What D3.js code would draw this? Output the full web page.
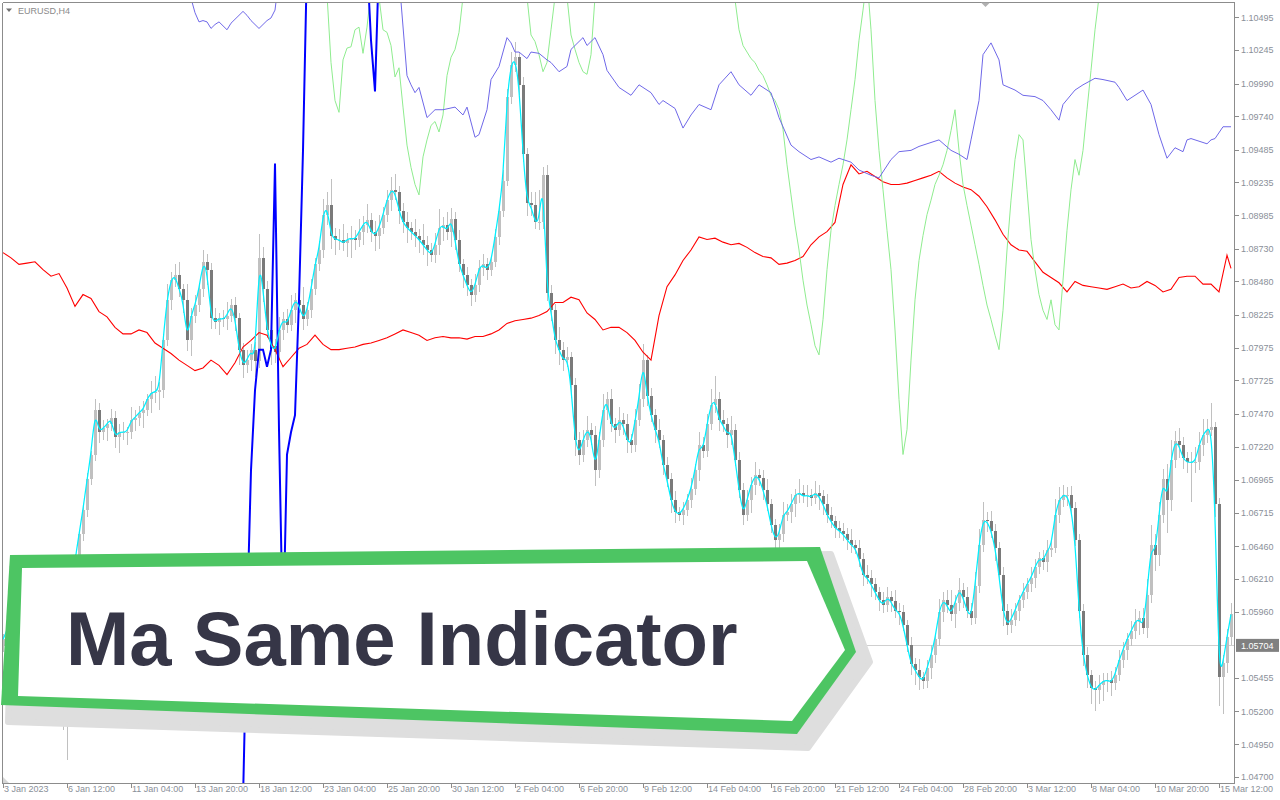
<!DOCTYPE html>
<html><head><meta charset="utf-8">
<script src="https://cdn.jsdelivr.net/npm/d3@7"></script>
<style>body{margin:0;background:#fff;}svg{display:block;}</style>
</head><body>
<svg id="c" width="1280" height="800"></svg>
<script>
// ---------------- DATA ----------------
const symbolLabel = "EURUSD,H4";
const bannerTitle = "Ma Same Indicator";
const firstOpen = 1.0570;
const closes = [
1.0575,1.0582,1.0590,1.0597,1.0594,1.0582,1.0567,1.0556,1.0544,1.0536,
1.0529,1.0525,1.0529,1.0521,1.0517,1.0510,1.0536,1.0605,1.0636,1.0655,
1.0674,1.0697,1.0716,1.0750,1.0733,1.0736,1.0739,1.0744,1.0729,1.0733,
1.0733,1.0733,1.0742,1.0744,1.0748,1.0750,1.0758,1.0763,1.0764,1.0765,
1.0803,1.0834,1.0849,1.0853,1.0842,1.0834,1.0803,1.0822,1.0830,1.0842,
1.0863,1.0857,1.0820,1.0817,1.0820,1.0819,1.0822,1.0830,1.0820,1.0796,
1.0784,1.0788,1.0796,1.0787,1.0866,1.0842,1.0811,1.0799,1.0794,1.0811,
1.0819,1.0815,1.0826,1.0834,1.0830,1.0819,1.0826,1.0842,1.0861,1.0872,
1.0899,1.0906,1.0883,1.0880,1.0880,1.0877,1.0880,1.0881,1.0880,1.0886,
1.0891,1.0895,1.0886,1.0883,1.0889,1.0899,1.0910,1.0918,1.0916,1.0902,
1.0893,1.0889,1.0886,1.0883,1.0880,1.0876,1.0872,1.0868,1.0876,1.0889,
1.0891,1.0886,1.0896,1.0880,1.0861,1.0853,1.0845,1.0838,1.0845,1.0858,
1.0861,1.0857,1.0863,1.0882,1.0902,1.0925,1.0989,1.1013,1.1019,1.0998,
1.0945,1.0908,1.0906,1.0893,1.0893,1.0929,1.0839,1.0826,1.0803,1.0796,
1.0788,1.0790,1.0769,1.0727,1.0716,1.0727,1.0735,1.0731,1.0704,1.0727,
1.0750,1.0758,1.0739,1.0735,1.0742,1.0739,1.0727,1.0723,1.0742,1.0758,
1.0788,1.0761,1.0746,1.0735,1.0727,1.0708,1.0697,1.0681,1.0672,1.0670,
1.0674,1.0681,1.0690,1.0704,1.0723,1.0719,1.0739,1.0754,1.0758,1.0742,
1.0739,1.0731,1.0735,1.0712,1.0689,1.0670,1.0681,1.0693,1.0700,1.0698,
1.0689,1.0678,1.0662,1.0651,1.0655,1.0670,1.0672,1.0678,1.0685,1.0687,
1.0684,1.0685,1.0683,1.0687,1.0684,1.0678,1.0670,1.0665,1.0660,1.0658,
1.0655,1.0651,1.0647,1.0645,1.0636,1.0624,1.0622,1.0617,1.0611,1.0605,
1.0601,1.0607,1.0604,1.0597,1.0596,1.0586,1.0571,1.0556,1.0552,1.0546,
1.0543,1.0553,1.0563,1.0575,1.0596,1.0605,1.0601,1.0594,1.0603,1.0613,
1.0607,1.0597,1.0591,1.0616,1.0647,1.0666,1.0665,1.0658,1.0645,1.0624,
1.0597,1.0586,1.0590,1.0597,1.0605,1.0611,1.0617,1.0622,1.0630,1.0637,
1.0634,1.0643,1.0645,1.0670,1.0681,1.0685,1.0685,1.0675,1.0651,1.0597,
1.0563,1.0548,1.0538,1.0536,1.0540,1.0543,1.0544,1.0542,1.0548,1.0559,
1.0567,1.0575,1.0581,1.0588,1.0591,1.0584,1.0609,1.0647,1.0639,1.0670,
1.0697,1.0681,1.0712,1.0726,1.0723,1.0713,1.0710,1.0710,1.0710,1.0723,
1.0731,1.0735,1.0737,1.0678,1.0546,1.0557,1.0577,1.0594];
// upper / lower wick length beyond the body, in pips
const wickUp = [
4,6,5,8,3,4,5,3,4,6, 5,4,8,3,4,5,6,5,4,3, 4,5,3,8,5,6,4,7,5,6, 8,4,10,6,5,7,4,9,12,6,
5,12,6,8,10,4,12,6,8,5, 9,6,5,8,4,6,10,5,6,4, 5,8,4,6,18,8,6,4,5,10, 6,8,12,5,9,14,6,8,5,7,
12,10,20,6,8,12,5,9,6,10, 7,12,5,8,10,6,8,10,12,5, 6,8,4,10,5,12,7,5,9,14, 6,10,8,5,7,4,6,5,9,6,
8,5,4,6,5,8,6,10,12,4, 6,5,8,10,25,6,8,6,5,10, 6,8,4,5,6,8,10,5,7,6, 12,6,8,5,10,6,8,5,9,12,
12,4,6,5,8,4,6,5,7,4, 6,5,8,5,10,6,8,12,18,6, 8,5,10,4,6,5,8,6,10,5, 6,8,4,5,8,10,6,8,5,10,
6,8,5,9,6,5,8,6,4,5, 6,5,8,4,6,5,8,6,5,4, 6,8,5,9,6,5,4,6,5,8, 4,6,8,5,10,6,8,12,6,9,
5,8,6,10,12,14,6,8,5,4, 6,5,8,6,4,7,5,8,6,5, 6,8,5,12,10,8,6,7,5,4, 5,6,4,5,8,6,5,7,6,8,
6,5,8,10,6,8,12,15,8,10, 8,12,15,8,10,6,5,8,12,10, 12,8,18,4,5,6,6,9];
const wickDn = [
5,4,6,3,5,4,6,8,5,4, 6,5,4,7,5,4,27,5,6,4, 5,6,4,5,8,6,10,5,8,12, 6,10,5,8,6,12,5,10,8,14,
6,4,8,5,6,10,8,12,6,5, 6,12,8,5,10,6,8,5,10,12, 10,6,8,12,5,10,6,15,8,5, 8,6,5,10,6,8,5,6,4,5,
6,8,10,12,8,6,10,14,8,6, 10,6,8,12,10,5,6,8,6,10, 8,12,6,9,10,8,12,5,6,8, 10,6,12,8,6,10,8,9,6,5,
6,8,5,4,6,5,4,6,5,8, 6,10,8,5,6,5,6,8,10,12, 8,5,10,12,8,6,5,8,12,6, 5,8,6,10,5,8,10,6,5,4,
6,8,5,10,6,8,6,10,8,5, 8,5,6,5,8,6,5,4,6,8, 6,10,8,5,6,8,5,10,8,6, 8,5,6,15,8,6,5,8,10,6,
5,8,6,5,10,8,6,5,8,6, 5,8,6,5,6,8,5,10,6,8, 6,5,8,6,10,5,6,8,12,10, 6,5,8,6,5,8,6,5,10,6,
8,6,5,4,6,5,8,6,10,5, 12,8,6,5,8,6,5,6,8,5, 6,8,5,4,6,5,8,6,5,6, 8,10,12,16,10,12,8,10,6,5,
6,8,5,6,10,5,8,6,12,8, 6,25,8,6,10,8,8,30,8,6, 8,6,5,10,22,28,8,6];
// red line, one value every 2 bars (last value = last bar)
const redLine = [
1.0870,1.0866,1.0861,1.0862,1.0863,1.0857,1.0852,1.0854,1.0843,1.0829,
1.0838,1.0835,1.0825,1.0821,1.0813,1.0808,1.0808,1.0811,1.0809,1.0801,
1.0797,1.0793,1.0788,1.0784,1.0780,1.0782,1.0788,1.0784,1.0777,1.0786,
1.0798,1.0803,1.0809,1.0807,1.0796,1.0783,1.0790,1.0797,1.0800,1.0807,
1.0800,1.0796,1.0796,1.0797,1.0798,1.0800,1.0801,1.0803,1.0805,1.0808,
1.0811,1.0809,1.0807,1.0803,1.0805,1.0806,1.0805,1.0805,1.0804,1.0806,
1.0806,1.0808,1.0811,1.0816,1.0818,1.0819,1.0820,1.0822,1.0825,1.0832,
1.0832,1.0836,1.0834,1.0824,1.0819,1.0811,1.0813,1.0813,1.0809,1.0803,
1.0794,1.0788,1.0822,1.0844,1.0853,1.0864,1.0872,1.0882,1.0880,1.0881,
1.0878,1.0876,1.0877,1.0874,1.0870,1.0867,1.0866,1.0861,1.0862,1.0864,
1.0867,1.0876,1.0882,1.0886,1.0893,1.0922,1.0937,1.0930,1.0932,1.0928,
1.0924,1.0922,1.0922,1.0923,1.0925,1.0927,1.0929,1.0932,1.0927,1.0923,
1.0920,1.0918,1.0913,1.0905,1.0895,1.0884,1.0876,1.0872,1.0871,1.0863,
1.0855,1.0851,1.0847,1.0840,1.0848,1.0845,1.0844,1.0843,1.0842,1.0844,
1.0846,1.0843,1.0844,1.0848,1.0845,1.0840,1.0842,1.0851,1.0852,1.0852,
1.0846,1.0846,1.0840,1.0868,1.0858];
const purpleBars = [47,48,49,50,51,52,53,54,56,57,60,61,62,64,66,67,68,69,84,99,
101,102,103,104,106,108,110,113,115,116,118,119,121,122,124,126,127,128,129,131,
132,134,136,137,139,141,142,145,146,148,150,151,154,157,159,162,164,165,168,170,
172,174,177,179,182,184,187,189,192,194,197,199,202,204,207,209,212,214,217,219,
222,224,227,229,232,234,237,239,241,242,244,245,247,249,250,253,255,258,260,262,
264,265,268,270,273,275,278,279,281,283,285,287,289,291,293,295,296,297,299,301,
302,303,305,307];
const purpleVals = [1.1064,1.1053,1.1046,1.1047,1.1046,1.1041,1.1044,1.1046,1.1040,1.1045,
1.1054,1.1051,1.1047,1.1041,1.1047,1.1049,1.1055,1.1080,1.1120,1.1080,
1.1005,1.0998,1.0992,1.0996,1.0973,1.0979,1.0979,1.0981,1.0975,1.0981,
1.0958,1.0960,1.0979,1.1002,1.1012,1.1034,1.1030,1.1023,1.1023,1.1018,
1.1023,1.1022,1.1017,1.1015,1.1008,1.1012,1.1025,1.1034,1.1028,1.1034,
1.1021,1.1009,1.0996,1.0990,1.0998,1.0992,1.0983,1.0986,1.0980,1.0965,
1.0975,1.0983,1.0979,1.0998,1.1008,1.0998,1.0990,1.0998,1.0992,1.0973,
1.0952,1.0947,1.0941,1.0943,1.0939,1.0942,1.0939,1.0933,1.0929,1.0927,
1.0941,1.0947,1.0948,1.0951,1.0954,1.0956,1.0948,1.0945,1.0941,1.0956,
1.0986,1.1021,1.1030,1.1017,1.0998,1.0994,1.0990,1.0989,1.0986,1.0979,
1.0971,1.0983,1.0994,1.0998,1.1003,1.1002,1.1000,1.0996,1.0986,1.0990,
1.0994,1.0983,1.0960,1.0942,1.0950,1.0947,1.0956,1.0957,1.0955,1.0953,
1.0956,1.0957,1.0966,1.0966];
const blueBars = [59,60,61,62,63,64,65,66,67,68,69,70,71,72,73,74,75,76,84,91,92,93,94,95];
const blueVals = [1.0390,1.0452,1.0590,1.0704,1.0765,1.0796,1.0796,1.0783,1.0796,1.0938,
1.0735,1.0575,1.0716,1.0733,1.0746,1.0834,1.0948,1.1093,1.1150,1.1093,1.1032,1.0993,1.1093,1.1150];
const greenBars = [80,81,82,83,84,85,86,87,88,89,90,91,92,93,94,95,96,97,98,99,
100,101,102,103,104,105,106,107,108,109,110,111,112,113,114,115,116,122,130,131,
132,133,134,135,136,137,138,139,140,141,142,143,144,145,146,147,148,149,165,182,
183,184,185,186,187,188,189,190,191,192,193,194,195,196,197,198,199,200,201,202,
203,204,205,206,207,208,209,210,211,212,213,214,215,216,217,218,219,220,221,222,
223,224,225,226,227,228,229,230,231,232,233,234,235,236,237,238,239,240,241,242,
243,244,245,246,247,248,249,250,251,252,253,254,255,256,257,258,259,260,261,262,
263,264,265,266,267,268,269,270,271,272,273,274,275,290];
const greenVals = [1.1090,1.1067,1.1015,1.0986,1.0977,1.1017,1.1026,1.1027,1.1040,1.1042,
1.1022,1.1042,1.1070,1.1085,1.1065,1.1040,1.1038,1.1028,1.1004,1.1011,
1.0981,1.0952,1.0935,1.0922,1.0914,1.0943,1.0956,1.0967,1.0970,1.0962,
1.0975,1.1005,1.1019,1.1025,1.1038,1.1065,1.1090,1.1100,1.1080,1.1065,
1.1036,1.1031,1.1021,1.1008,1.1015,1.1040,1.1065,1.1080,1.1080,1.1065,
1.1036,1.1025,1.1015,1.1008,1.1006,1.1021,1.1065,1.1100,1.1120,1.1080,
1.1063,1.1040,1.1028,1.1023,1.1018,1.1015,1.1009,1.1005,1.0998,1.0990,
1.0986,1.0979,1.0964,1.0937,1.0914,1.0891,1.0872,1.0849,1.0830,1.0815,
1.0799,1.0792,1.0819,1.0857,1.0887,1.0906,1.0922,1.0937,1.0956,1.0979,
1.1002,1.1032,1.1055,1.1080,1.1040,1.0986,1.0948,1.0918,1.0887,1.0857,
1.0811,1.0758,1.0716,1.0735,1.0788,1.0834,1.0864,1.0883,1.0899,1.0910,
1.0922,1.0929,1.0937,1.0948,1.0963,1.0979,1.0948,1.0922,1.0906,1.0891,
1.0876,1.0861,1.0845,1.0830,1.0819,1.0807,1.0796,1.0826,1.0872,1.0910,
1.0941,1.0960,1.0956,1.0918,1.0880,1.0857,1.0838,1.0826,1.0819,1.0834,
1.0815,1.0811,1.0849,1.0887,1.0918,1.0941,1.0929,1.0948,1.0979,1.1009,
1.1040,1.1065,1.1090,1.1150];
const timeLabels = ["3 Jan 2023","6 Jan 12:00","11 Jan 04:00","13 Jan 20:00","18 Jan 12:00",
"23 Jan 04:00","25 Jan 20:00","30 Jan 12:00","2 Feb 04:00","6 Feb 20:00","9 Feb 12:00",
"14 Feb 04:00","16 Feb 20:00","21 Feb 12:00","24 Feb 04:00","28 Feb 20:00","3 Mar 12:00",
"8 Mar 04:00","10 Mar 20:00","15 Mar 12:00"];
const barsPerTimeLabel = 16;
const priceTicks = [1.10495,1.10245,1.09990,1.09740,1.09485,1.09235,1.08985,1.08730,1.08480,
1.08225,1.07975,1.07725,1.07470,1.07220,1.06965,1.06715,1.06460,1.06210,1.05960,
1.05455,1.05200,1.04950,1.04700];
const bidPrice = 1.05704;

// ---------------- LAYOUT ----------------
const W = 1280, H = 800;
const L = 2.5, R = 1234.5, T = 2.5, B = 783.5;
const nBars = closes.length;
const x = d3.scaleLinear().domain([0, nBars - 1]).range([3, 3 + 4 * (nBars - 1)]);
const y = d3.scaleLinear().domain([1.04700, 1.10495]).range([777, 17.3]);
const axisFont = "'Liberation Sans', Arial, sans-serif";
const axisColor = "#8a8f99";

const svg = d3.select("#c");
svg.append("rect").attr("width", W).attr("height", H).attr("fill", "#fff");
svg.append("defs").append("clipPath").attr("id", "clip")
  .append("rect").attr("x", L).attr("y", T).attr("width", R - L).attr("height", B - T);
const g = svg.append("g").attr("clip-path", "url(#clip)");

// bid line
g.append("line").attr("x1", L).attr("x2", R)
  .attr("y1", Math.round(y(bidPrice)) + 0.5).attr("y2", Math.round(y(bidPrice)) + 0.5)
  .attr("stroke", "#cfcfcf").attr("stroke-width", 1);

// candles
const candles = closes.map((c, i) => {
  const o = i ? closes[i - 1] : firstOpen;
  return { i, o, c, hi: Math.max(o, c) + wickUp[i] / 1e4, lo: Math.min(o, c) - wickDn[i] / 1e4 };
});
const cg = g.append("g").attr("shape-rendering", "crispEdges");
cg.selectAll("line.w").data(candles).join("line")
  .attr("x1", d => x(d.i) + 0.5).attr("x2", d => x(d.i) + 0.5)
  .attr("y1", d => y(d.hi)).attr("y2", d => y(d.lo))
  .attr("stroke", "#c0c0c0").attr("stroke-width", 1);
cg.selectAll("rect.b").data(candles).join("rect")
  .attr("x", d => x(d.i) - 1).attr("width", 3)
  .attr("y", d => y(Math.max(d.o, d.c)))
  .attr("height", d => Math.max(1, Math.abs(y(d.o) - y(d.c))))
  .attr("fill", d => d.c >= d.o ? "#c0c0c0" : "#7a7a7a");

// indicator lines
const lineGen = d3.line().x(d => x(d[0])).y(d => y(d[1]));
const redPts = redLine.map((v, k) => [Math.min(2 * k, nBars - 1), v]);
g.append("path").attr("d", lineGen(redPts)).attr("fill", "none").attr("stroke", "#ff0000").attr("stroke-width", 1.1);
g.append("path").attr("d", lineGen(d3.zip(greenBars, greenVals))).attr("fill", "none").attr("stroke", "#8fec8f").attr("stroke-width", 1);
g.append("path").attr("d", lineGen(d3.zip(purpleBars, purpleVals))).attr("fill", "none").attr("stroke", "#6f68e8").attr("stroke-width", 1);
g.append("path").attr("d", lineGen(d3.zip(blueBars, blueVals))).attr("fill", "none").attr("stroke", "#0000ff").attr("stroke-width", 2);
const cyanGen = d3.line().x((d, i) => x(i)).y(d => y(d)).curve(d3.curveBasis);
g.append("path").attr("d", cyanGen(closes)).attr("fill", "none").attr("stroke", "#00f0ff").attr("stroke-width", 1.25);

// chart frame
const frame = svg.append("g").attr("stroke", "#8c8c8c").attr("stroke-width", 1).attr("shape-rendering", "crispEdges");
frame.append("line").attr("x1", L).attr("x2", R).attr("y1", T).attr("y2", T);
frame.append("line").attr("x1", L).attr("x2", L).attr("y1", T).attr("y2", B);
frame.append("line").attr("x1", R).attr("x2", R).attr("y1", T).attr("y2", B);
frame.append("line").attr("x1", L).attr("x2", R).attr("y1", B).attr("y2", B);

// price axis
const pa = svg.append("g");
pa.selectAll("line").data(priceTicks).join("line")
  .attr("x1", R).attr("x2", R + 4).attr("y1", d => Math.round(y(d)) + 0.5).attr("y2", d => Math.round(y(d)) + 0.5)
  .attr("stroke", "#8c8c8c").attr("shape-rendering", "crispEdges");
pa.selectAll("text").data(priceTicks).join("text")
  .attr("x", R + 6.5).attr("y", d => y(d) + 3.3)
  .attr("font-family", axisFont).attr("font-size", 9).attr("fill", axisColor)
  .text(d => d.toFixed(5));
// bid label
svg.append("rect").attr("x", R + 1.5).attr("y", y(bidPrice) - 6.5).attr("width", 43).attr("height", 13).attr("fill", "#808080");
svg.append("text").attr("x", R + 6.5).attr("y", y(bidPrice) + 3.3)
  .attr("font-family", axisFont).attr("font-size", 9).attr("fill", "#ffffff").text(bidPrice.toFixed(5));

// time axis
const ta = svg.append("g");
const tl = timeLabels.map((t, k) => ({ t, i: k * barsPerTimeLabel }));
ta.selectAll("line").data(tl).join("line")
  .attr("x1", d => x(d.i) + 0.5).attr("x2", d => x(d.i) + 0.5).attr("y1", B).attr("y2", B + 4)
  .attr("stroke", "#8c8c8c").attr("shape-rendering", "crispEdges");
ta.selectAll("text").data(tl).join("text")
  .attr("x", d => x(d.i) + 1).attr("y", 792)
  .attr("font-family", axisFont).attr("font-size", 9).attr("fill", axisColor)
  .text(d => d.t);

// small MT4 markers
svg.append("path").attr("d", "M3,777 L3,783 L9,783 Z").attr("fill", "#d6d6d6");
svg.append("path").attr("d", "M6,8.5 L12,8.5 L9,12 Z").attr("fill", "#707070");
svg.append("text").attr("x", 18).attr("y", 14).attr("font-family", axisFont).attr("font-size", 9)
  .attr("fill", "#8a8a8a").text(symbolLabel);
svg.append("path").attr("d", "M981,2.5 L990,2.5 L985.5,7 Z").attr("fill", "#b0b0b0");

// banner
const ban = svg.append("g");
const shadow = [[12,568],[831,554],[870,662],[808,748],[8,722]];
const outer = [[10,555],[820,547],[856,652],[797,734],[1,705]];
const inner = [[22,568],[807,561],[845,650],[792,721],[18,696]];
const poly = p => "M" + p.map(q => q.join(",")).join("L") + "Z";
ban.append("path").attr("d", poly(shadow)).attr("fill", "#dedede").attr("stroke", "#dedede")
  .attr("stroke-width", 6).attr("stroke-linejoin", "round");
ban.append("path").attr("d", poly(outer)).attr("fill", "#4dc563");
ban.append("path").attr("d", poly(inner)).attr("fill", "#ffffff");
ban.append("text").attr("x", 66).attr("y", 665)
  .attr("font-family", "'Liberation Sans', Arial, sans-serif").attr("font-weight", "bold")
  .attr("font-size", 76).attr("fill", "#363647").text(bannerTitle);
</script>
</body></html>
